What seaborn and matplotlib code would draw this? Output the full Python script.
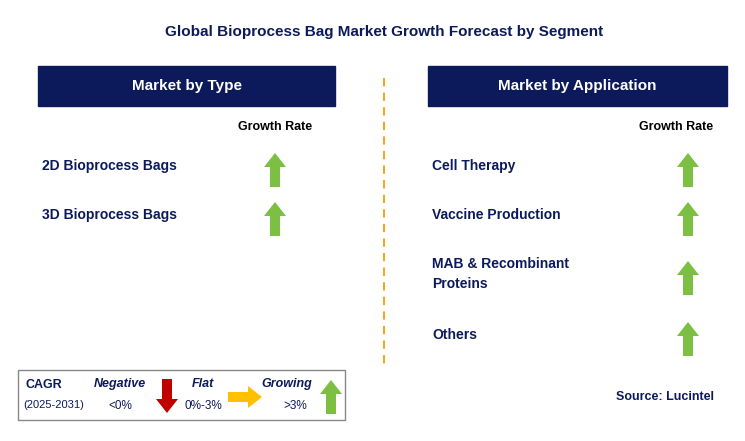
import matplotlib
matplotlib.use("Agg")
import matplotlib.pyplot as plt
from matplotlib.patches import Rectangle, FancyArrow
import seaborn as sns

sns.set_theme(style="white")
plt.rcParams["font.family"] = "Liberation Sans"

title = "Global Bioprocess Bag Market Growth Forecast by Segment"
type_segments = ["2D Bioprocess Bags", "3D Bioprocess Bags"]
type_growth = ["Growing", "Growing"]
app_segments = ["Cell Therapy", "Vaccine Production", "MAB & Recombinant\nProteins", "Others"]
app_growth = ["Growing", "Growing", "Growing", "Growing"]
legend_labels = ["Negative", "Flat", "Growing"]
legend_ranges = ["<0%", "0%-3%", ">3%"]

NAVY = "#0c1a5c"
GREEN = "#7cbf42"
RED = "#c00000"
YELLOW = "#ffc000"
ORANGE = "#f5a623"

fig = plt.figure(figsize=(7.45, 4.41), dpi=100)
ax = fig.add_axes([0, 0, 1, 1])
ax.set_xlim(0, 745)
ax.set_ylim(441, 0)
ax.axis("off")

ax.text(384, 32, title, ha="center", va="center", fontsize=11, fontweight="bold", color=NAVY)

for x0, x1, lbl in [(38, 335, "Market by Type"), (428, 727, "Market by Application")]:
    ax.add_patch(Rectangle((x0, 66), x1 - x0, 40, color=NAVY))
    ax.text((x0 + x1) / 2, 86, lbl, ha="center", va="center", fontsize=11, fontweight="bold", color="white")

ax.plot([384, 384], [78, 365], ls=(0, (4, 3)), color=ORANGE, lw=1.5)

def up(x, yc, s=1.0):
    ax.add_patch(FancyArrow(x, yc + 17 * s, 0, -34 * s, width=10 * s, head_width=22 * s,
                            head_length=14 * s, length_includes_head=True, color=GREEN, lw=0))

arrow_style = {"Growing": up}

ax.text(275, 127, "Growth Rate", ha="center", va="center", fontsize=9, fontweight="bold", color="black")
ax.text(676, 127, "Growth Rate", ha="center", va="center", fontsize=9, fontweight="bold", color="black")

type_y = [166, 215]
for s, g, y in zip(type_segments, type_growth, type_y):
    ax.text(42, y, s, ha="left", va="center", fontsize=10, fontweight="bold", color=NAVY)
    arrow_style[g](275, y + 4)

app_y = [166, 215, 274, 335]
for s, g, y in zip(app_segments, app_growth, app_y):
    ax.text(432, y, s, ha="left", va="center", fontsize=10, fontweight="bold", color=NAVY, linespacing=1.5)
    arrow_style[g](688, y + 4)

# legend
ax.add_patch(Rectangle((18, 370), 327, 50, fill=False, ec="#888888", lw=1))
ax.text(25, 385, "CAGR", ha="left", va="center", fontsize=9, fontweight="bold", color=NAVY)
ax.text(23, 405, "(2025-2031)", ha="left", va="center", fontsize=8, color=NAVY)
lx = [120, 203, 287]
rx = [120, 203, 295]
for l, r, x1, x2 in zip(legend_labels, legend_ranges, lx, rx):
    ax.text(x1, 384, l, ha="center", va="center", fontsize=9, fontweight="bold", style="italic", color=NAVY)
    ax.text(x2, 406, r, ha="center", va="center", fontsize=8.5, color=NAVY)
ax.add_patch(FancyArrow(167, 379, 0, 34, width=10, head_width=22, head_length=14,
                        length_includes_head=True, color=RED, lw=0))
ax.add_patch(FancyArrow(228, 397, 34, 0, width=10, head_width=22, head_length=14,
                        length_includes_head=True, color=YELLOW, lw=0))
up(331, 397)

ax.text(665, 397, "Source: Lucintel", ha="center", va="center", fontsize=9, fontweight="bold", color=NAVY)

fig.savefig("out.png", dpi=100)
